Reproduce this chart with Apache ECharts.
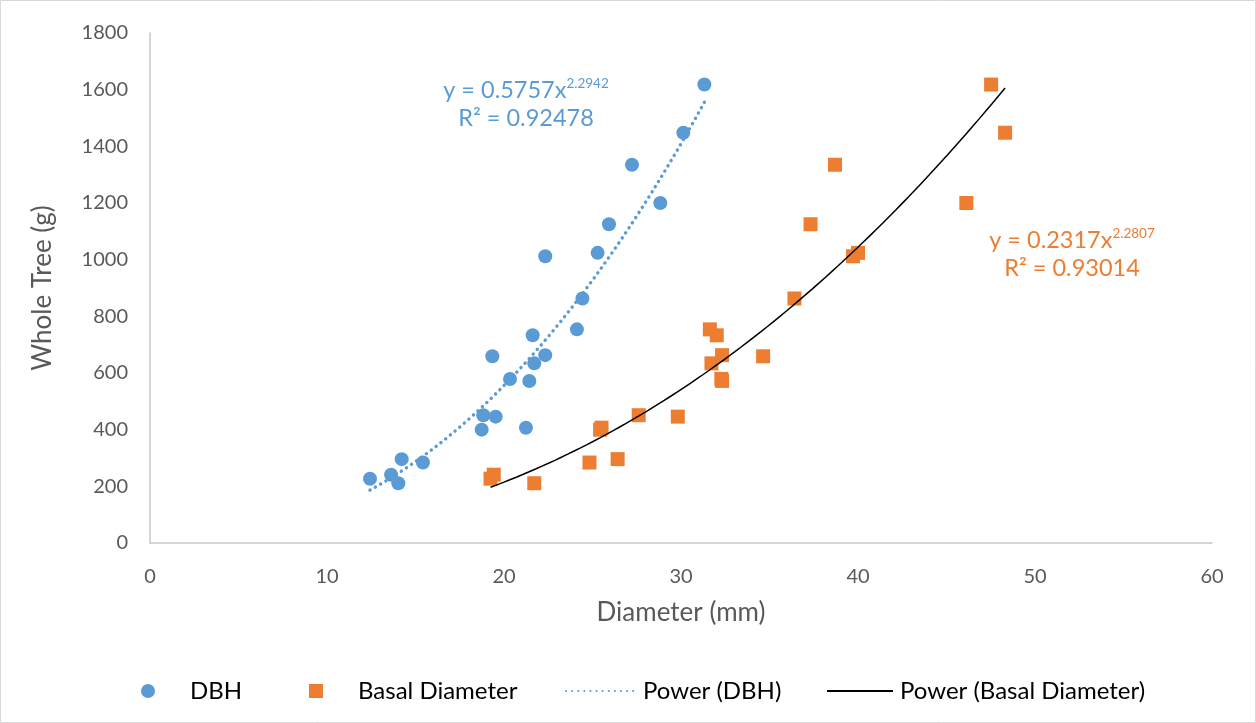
<!DOCTYPE html>
<html>
<head>
<meta charset="utf-8">
<script src="https://cdn.jsdelivr.net/npm/echarts@6/dist/echarts.min.js"></script>
<style>
  html, body { margin: 0; padding: 0; background: #fff; }
  #main { width: 1256px; height: 723px; }
</style>
</head>
<body>
<div id="main"></div>
<script>
// one entry per tree
const wholeTree = [1618, 1448, 1335, 1200, 1125, 1024, 1012, 863, 754, 733, 663, 659,
                   634, 579, 572, 451, 446, 407, 400, 296, 284, 241, 227, 211];
const dbh = [31.32, 30.13, 27.23, 28.83, 25.93, 25.29, 22.33, 24.43, 24.12, 21.62, 22.33, 19.34,
             21.71, 20.34, 21.43, 18.83, 19.53, 21.24, 18.74, 14.22, 15.42, 13.62, 12.43, 14.03];
const basal = [47.52, 48.31, 38.70, 46.12, 37.32, 40.00, 39.72, 36.41, 31.63, 32.02, 32.32, 34.64,
               31.72, 32.28, 32.32, 27.61, 29.82, 25.51, 25.43, 26.42, 24.83, 19.42, 19.24, 21.71];

// power trendline coefficients as printed on the chart: y = a * x^b
const dbhFit = { a: 0.5757, b: 2.2942, r2: '0.92478' };
const basalFit = { a: 0.2317, b: 2.2807, r2: '0.93014' };

const xTicks = { min: 0, max: 60, interval: 10 };
const yTicks = { min: 0, max: 1800, interval: 200 };

const FONT = 'Lato';
const BLUE = '#5B9BD5';
const ORANGE = '#ED7D31';

function pairs(xs, ys) {
  return xs.map((x, i) => [x, ys[i]]);
}

// trendline over the data range, like Excel draws it
function powerCurve(xs, fit) {
  const lo = Math.min(...xs), hi = Math.max(...xs);
  const pts = [];
  const n = 80;
  for (let i = 0; i <= n; i++) {
    const x = lo + (hi - lo) * i / n;
    pts.push([x, fit.a * Math.pow(x, fit.b)]);
  }
  return pts;
}

const eqRich = {
  m: { fontFamily: FONT, fontSize: 23.5, lineHeight: 27 },
  s: { fontFamily: FONT, fontSize: 13.5, lineHeight: 27, verticalAlign: 'top', padding: [0, 0, 10, 0] }
};

// two centred lines: equation with superscript, then R²
function eqLabels(fit, cx, cy, color) {
  return [
    {
      type: 'text', x: cx, y: cy,
      style: {
        text: '{m|y = ' + fit.a + 'x}{s|' + fit.b + '}',
        fill: color, align: 'center', verticalAlign: 'middle', rich: eqRich
      }
    },
    {
      type: 'text', x: cx, y: cy + 28,
      style: {
        text: 'R² = ' + fit.r2, fill: color, align: 'center', verticalAlign: 'middle',
        fontFamily: FONT, fontSize: 23.5
      }
    }
  ];
}

function oneLegend(name, left, w, textPad, hideSymbol) {
  const lg = {
    data: [name],
    left: left, top: 679,
    padding: 0,
    itemWidth: w, itemHeight: 14,
    textStyle: { fontFamily: FONT, fontSize: 24, color: '#000', padding: [0, 0, 0, textPad] }
  };
  if (hideSymbol) lg.itemStyle = { opacity: 0 };
  return lg;
}

let myChart = echarts.init(document.getElementById('main'));
let option = {
  backgroundColor: '#fff',
  animation: false,
  grid: { left: 150, right: 44, top: 33, bottom: 180 },
  xAxis: {
    type: 'value',
    min: xTicks.min, max: xTicks.max, interval: xTicks.interval,
    name: 'Diameter (mm)',
    nameLocation: 'middle',
    nameGap: 57,
    nameTextStyle: { fontFamily: FONT, fontSize: 26, color: '#595959' },
    axisLine: { show: true, onZero: false, lineStyle: { color: '#c8c8c8', width: 1.5 } },
    axisTick: { show: false },
    splitLine: { show: false },
    axisLabel: { fontFamily: FONT, fontSize: 20, color: '#595959', margin: 24 }
  },
  yAxis: {
    type: 'value',
    min: yTicks.min, max: yTicks.max, interval: yTicks.interval,
    name: 'Whole Tree (g)',
    nameLocation: 'middle',
    nameGap: 94,
    nameTextStyle: { fontFamily: FONT, fontSize: 26, color: '#595959' },
    axisLine: { show: true, lineStyle: { color: '#c8c8c8', width: 1.5 } },
    axisTick: { show: false },
    splitLine: { show: false },
    axisLabel: {
      fontFamily: FONT, fontSize: 20, color: '#595959', margin: 22,
      formatter: (v) => String(v)
    }
  },
  legend: [
    oneLegend('DBH', 141, 14, 30, false),
    oneLegend('Basal Diameter', 309, 14, 30, false),
    oneLegend('Power (DBH)', 565, 72, 0, true),
    oneLegend('Power (Basal Diameter)', 826, 66, 2, true)
  ],
  graphic: [
    {
      type: 'rect', silent: true, z: -1,
      shape: { x: 0.5, y: 0.5, width: 1255, height: 722 },
      style: { fill: 'none', stroke: '#d9d9d9', lineWidth: 1 }
    }
  ].concat(eqLabels(dbhFit, 526, 90, BLUE), eqLabels(basalFit, 1072, 240, ORANGE)),
  series: [
    {
      name: 'DBH',
      type: 'scatter',
      symbol: 'circle',
      symbolSize: 14,
      itemStyle: { color: BLUE, opacity: 1 },
      data: pairs(dbh, wholeTree),
      z: 3
    },
    {
      name: 'Basal Diameter',
      type: 'scatter',
      symbol: 'rect',
      symbolSize: 14,
      itemStyle: { color: ORANGE, opacity: 1 },
      data: pairs(basal, wholeTree),
      z: 3
    },
    {
      name: 'Power (DBH)',
      type: 'line',
      symbol: 'none',
      smooth: false,
      lineStyle: { color: BLUE, width: 3.4, type: [0.1, 6], cap: 'round' },
      itemStyle: { color: BLUE },
      data: powerCurve(dbh, dbhFit),
      z: 4
    },
    {
      name: 'Power (Basal Diameter)',
      type: 'line',
      symbol: 'none',
      smooth: false,
      lineStyle: { color: '#000', width: 1.5, type: 'solid' },
      itemStyle: { color: '#000' },
      data: powerCurve(basal, basalFit),
      z: 4
    }
  ]
};
myChart.setOption(option);
</script>
</body>
</html>
